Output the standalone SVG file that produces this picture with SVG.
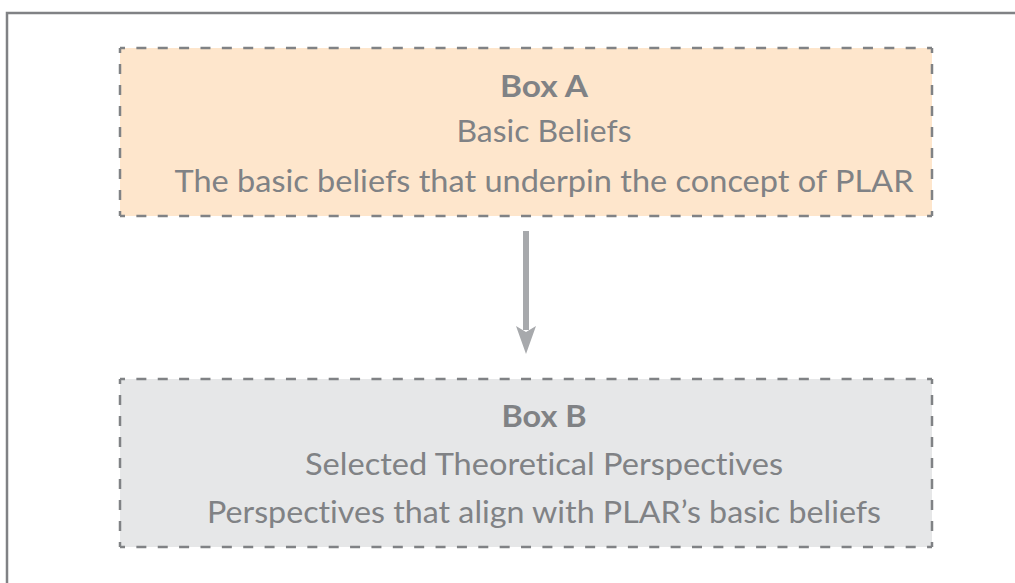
<svg xmlns="http://www.w3.org/2000/svg" width="1015" height="583" viewBox="0 0 1015 583">
<style>
.frame{fill:none;stroke:#808285;stroke-width:2.5}
.a{fill:#FEE6CC}
.b{fill:#E6E7E8}
.h,.v{fill:none;stroke:#808285;stroke-width:2.5;stroke-dashoffset:5}
.h{stroke-dasharray:10 11.37}
.v{stroke-dasharray:10 11}
text{font-family:Lato,"Liberation Sans",sans-serif;font-size:30px;fill:#808285;text-anchor:middle;font-variant-ligatures:none}
.t{font-weight:bold}
.conn{stroke:#A7A9AC;stroke-width:6;fill:none}
</style>
<rect class="frame" x="7" y="13" width="1020" height="590"/>
<g id="boxA">
<rect class="a" x="120" y="48" width="812" height="168"/>
<path class="h" d="M120,48H932M120,216H932"/>
<path class="v" d="M120,48V216M932,48V216"/>
<text class="t" x="544" y="97" textLength="88" lengthAdjust="spacingAndGlyphs">Box A</text>
<text x="544" y="142" textLength="175" lengthAdjust="spacingAndGlyphs">Basic Beliefs</text>
<text x="544" y="192" textLength="739" lengthAdjust="spacingAndGlyphs">The basic beliefs that underpin the concept of PLAR</text>
</g>
<g id="boxB">
<rect class="b" x="120" y="379" width="812" height="168"/>
<path class="h" d="M120,379H932M120,547H932"/>
<path class="v" d="M120,379V547M932,379V547"/>
<text class="t" x="544" y="427" textLength="85" lengthAdjust="spacingAndGlyphs">Box B</text>
<text x="544" y="475" textLength="478" lengthAdjust="spacingAndGlyphs">Selected Theoretical Perspectives</text>
<text x="544" y="523" textLength="674" lengthAdjust="spacingAndGlyphs">Perspectives that align with PLAR’s basic beliefs</text>
</g>
<g id="connectors">
<line class="conn" x1="526" y1="231" x2="526" y2="330"/>
<path d="M516,326 L526,354 L536,326 L526,332 Z" fill="#A7A9AC"/>
</g>
</svg>
